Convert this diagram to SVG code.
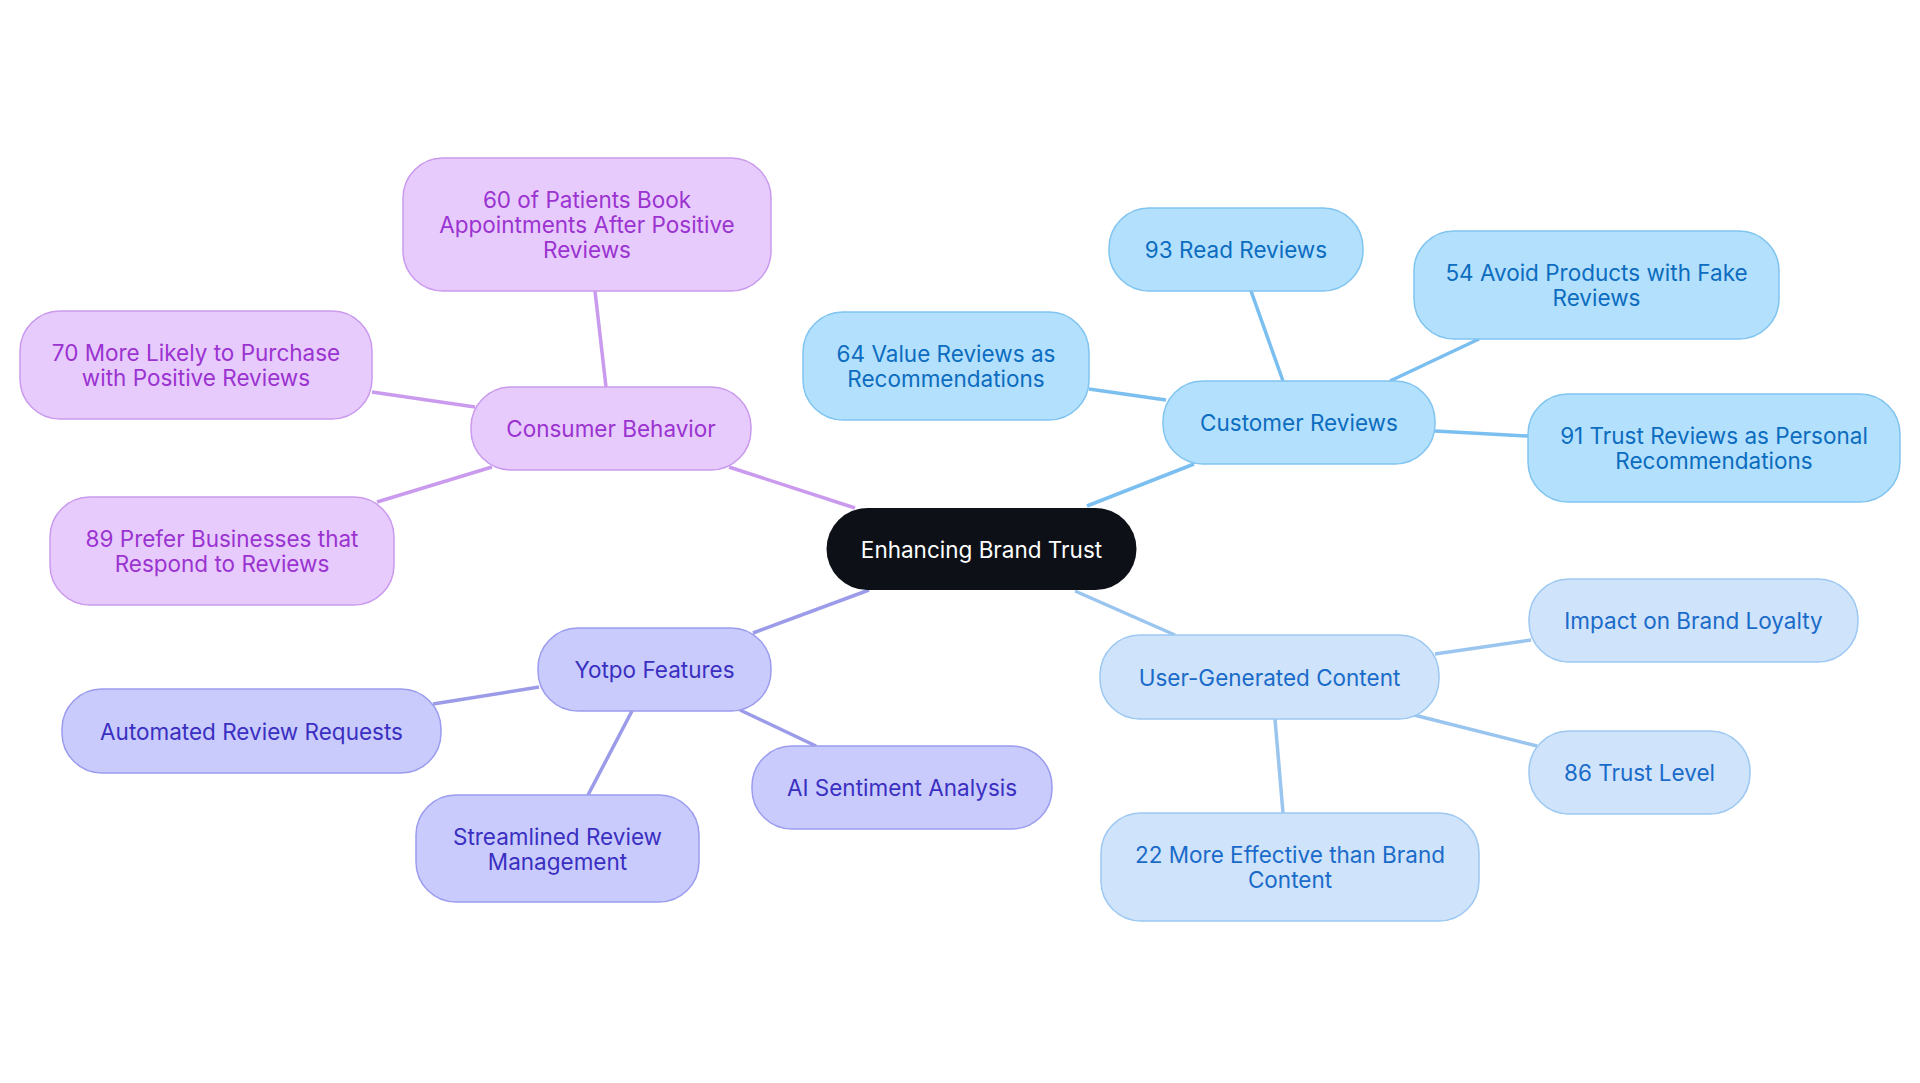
<svg xmlns="http://www.w3.org/2000/svg" width="1920" height="1083" viewBox="0 0 1920 1083">
<style>
text{font-family:Inter,"Noto Sans","Liberation Sans",sans-serif;font-size:22.5px;text-anchor:middle;dominant-baseline:central}
.b rect{fill:#b3e0fd;stroke:#80c4f0;stroke-width:1.5}.b text{fill:#0c6cbf}
.u rect{fill:#cfe3fb;stroke:#9cc8f2;stroke-width:1.5}.u text{fill:#1a6bc9}
.y rect{fill:#c9cbfd;stroke:#9b9cee;stroke-width:1.5}.y text{fill:#3a2fc1}
.c rect{fill:#e8cbfd;stroke:#c99aed;stroke-width:1.5}.c text{fill:#9a33d0}
#edges line{stroke-width:3.5;fill:none}
</style>
<rect width="1920" height="1083" fill="#fff"/>
<g id="edges">
<g stroke="#7bbff0"><line x1="1087" y1="506" x2="1194" y2="464"/><line x1="1283" y1="381" x2="1251" y2="291"/><line x1="1390" y1="381" x2="1479" y2="339"/><line x1="1166" y1="400" x2="1089" y2="389"/><line x1="1435" y1="431" x2="1528" y2="436"/></g>
<g stroke="#9ac5ef"><line x1="1075" y1="591" x2="1175" y2="635"/><line x1="1435" y1="654" x2="1531" y2="640"/><line x1="1414" y1="715" x2="1537" y2="746"/><line x1="1275" y1="719" x2="1283" y2="813"/></g>
<g stroke="#9b9be9"><line x1="869" y1="590" x2="753" y2="633"/><line x1="539" y1="687" x2="433" y2="704"/><line x1="740" y1="710" x2="816" y2="746"/><line x1="632" y1="711" x2="588" y2="795"/></g>
<g stroke="#c99aed"><line x1="855" y1="508" x2="729" y2="467"/><line x1="606" y1="387" x2="595" y2="291"/><line x1="475" y1="407" x2="372" y2="392"/><line x1="492" y1="467" x2="377" y2="502"/></g>
</g>
<g id="center"><rect x="826.5" y="508" width="310" height="82" rx="41" fill="#0d1117"/><text x="981.5" y="549" fill="#fff">Enhancing Brand Trust</text></g>
<g id="cr" class="b"><rect x="1163" y="381" width="272" height="83" rx="40"/><text x="1299" y="422.5">Customer Reviews</text></g>
<g id="b93" class="b"><rect x="1109" y="208" width="254" height="83" rx="40"/><text x="1236" y="249.5">93 Read Reviews</text></g>
<g id="b54" class="b"><rect x="1414" y="231" width="365" height="108" rx="40"/><text x="1596.5" y="272.5">54 Avoid Products with Fake</text><text x="1596.5" y="297.5">Reviews</text></g>
<g id="b64" class="b"><rect x="803" y="312" width="286" height="108" rx="40"/><text x="946" y="353.5">64 Value Reviews as</text><text x="946" y="378.5">Recommendations</text></g>
<g id="b91" class="b"><rect x="1528" y="394" width="372" height="108" rx="40"/><text x="1714" y="435.5">91 Trust Reviews as Personal</text><text x="1714" y="460.5">Recommendations</text></g>
<g id="ugc" class="u"><rect x="1100" y="635" width="339" height="84" rx="40"/><text x="1269.5" y="677">User-Generated Content</text></g>
<g id="impact" class="u"><rect x="1529" y="579" width="329" height="83" rx="40"/><text x="1693.5" y="620.5">Impact on Brand Loyalty</text></g>
<g id="u86" class="u"><rect x="1529" y="731" width="221" height="83" rx="40"/><text x="1639.5" y="772.5">86 Trust Level</text></g>
<g id="u22" class="u"><rect x="1101" y="813" width="378" height="108" rx="40"/><text x="1290" y="854.5">22 More Effective than Brand</text><text x="1290" y="879.5">Content</text></g>
<g id="yotpo" class="y"><rect x="538" y="628" width="233" height="83" rx="40"/><text x="654.5" y="669.5">Yotpo Features</text></g>
<g id="auto" class="y"><rect x="62" y="689" width="379" height="84" rx="40"/><text x="251.5" y="731">Automated Review Requests</text></g>
<g id="ai" class="y"><rect x="752" y="746" width="300" height="83" rx="40"/><text x="902" y="787.5">AI Sentiment Analysis</text></g>
<g id="stream" class="y"><rect x="416" y="795" width="283" height="107" rx="40"/><text x="557.5" y="836">Streamlined Review</text><text x="557.5" y="861">Management</text></g>
<g id="cb" class="c"><rect x="471" y="387" width="280" height="83" rx="40"/><text x="611" y="428.5">Consumer Behavior</text></g>
<g id="c60" class="c"><rect x="403" y="158" width="368" height="133" rx="40"/><text x="587" y="199.5">60 of Patients Book</text><text x="587" y="224.5">Appointments After Positive</text><text x="587" y="249.5">Reviews</text></g>
<g id="c70" class="c"><rect x="20" y="311" width="352" height="108" rx="40"/><text x="196" y="352.5">70 More Likely to Purchase</text><text x="196" y="377.5">with Positive Reviews</text></g>
<g id="c89" class="c"><rect x="50" y="497" width="344" height="108" rx="40"/><text x="222" y="538.5">89 Prefer Businesses that</text><text x="222" y="563.5">Respond to Reviews</text></g>
</svg>
